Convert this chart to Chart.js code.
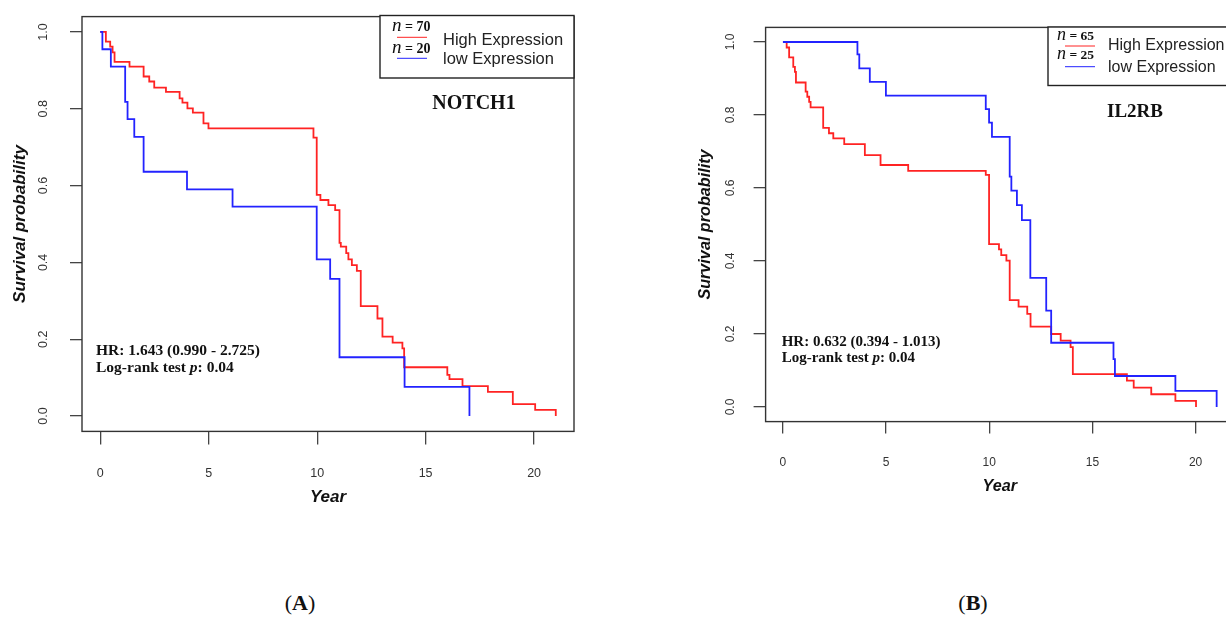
<!DOCTYPE html>
<html>
<head>
<meta charset="utf-8">
<script src="https://cdn.jsdelivr.net/npm/chart.js@4.4.1/dist/chart.umd.min.js"></script>
<style>
html, body { margin: 0; padding: 0; width: 1226px; height: 619px; overflow: hidden; background: #fff; }
canvas { position: absolute; top: 0; }
#chartA { left: 0; }
#chartB { left: 680px; }
.tag { position: absolute; top: 591px; width: 100px; text-align: center; line-height: 24px;
       font-family: 'Liberation Serif', 'Times New Roman', serif; font-size: 22px; color: #111; }
</style>
</head>
<body>
<canvas id="chartA" width="613" height="530"></canvas>
<canvas id="chartB" width="580" height="530"></canvas>
<div class="tag" style="left:250px">(<b>A</b>)</div>
<div class="tag" style="left:923px">(<b>B</b>)</div>
<script>
// axis ticks shared by both panels
const yearTicks = [0, 5, 10, 15, 20];
const yearTickLabels = ["0", "5", "10", "15", "20"];
const survTicks = [0, 0.2, 0.4, 0.6, 0.8, 1.0];
const survTickLabels = ["0.0", "0.2", "0.4", "0.6", "0.8", "1.0"];

// (A) NOTCH1 - high expression, n = 70
const notchHighYears = [0, 0.26, 0.46, 0.57, 0.66, 1.35, 2.0, 2.26, 2.49, 3.03, 3.66, 3.79, 4.02, 4.27, 4.76, 4.99,
    9.83, 9.98, 10.15, 10.52, 10.83, 11.03, 11.09, 11.34, 11.44, 11.6, 11.83, 12.01, 12.78, 13.01, 13.48, 13.93,
    14.01, 16.0, 16.1, 16.7, 17.87, 19.02, 20.05, 21.0];
const notchHighSurv = [1.0, 0.975, 0.962, 0.947, 0.922, 0.91, 0.884, 0.871, 0.855, 0.844, 0.827, 0.816, 0.801, 0.79, 0.762, 0.749,
    0.725, 0.576, 0.5625, 0.549, 0.536, 0.451, 0.441, 0.424, 0.408, 0.393, 0.378, 0.286, 0.254, 0.207, 0.191, 0.176,
    0.127, 0.107, 0.096, 0.078, 0.063, 0.031, 0.016, 0.0];
// (A) NOTCH1 - low expression, n = 20
const notchLowYears = [0, 0.1, 0.49, 1.15, 1.26, 1.57, 2.0, 4.0, 6.1, 9.98, 10.6, 11.03, 14.03, 17.02];
const notchLowSurv = [1.0, 0.955, 0.91, 0.818, 0.773, 0.727, 0.636, 0.59, 0.545, 0.408, 0.357, 0.153, 0.076, 0.0];

// (B) IL2RB - high expression, n = 65
const il2rbHighYears = [0, 0.18, 0.3, 0.5, 0.58, 0.63, 1.1, 1.18, 1.27, 1.34, 1.95, 2.23, 2.44, 2.97, 3.97, 4.73,
    6.07, 9.83, 9.99, 10.47, 10.58, 10.83, 10.99, 11.42, 11.84, 12.0, 13.0, 13.46, 13.94, 14.05, 16.67, 17.0,
    17.85, 19.02, 20.02];
const il2rbHighSurv = [1.0, 0.985, 0.958, 0.932, 0.918, 0.889, 0.864, 0.85, 0.836, 0.821, 0.765, 0.75, 0.736, 0.72, 0.69, 0.663,
    0.647, 0.636, 0.446, 0.432, 0.416, 0.401, 0.293, 0.275, 0.255, 0.22, 0.2, 0.182, 0.164, 0.09, 0.072, 0.053,
    0.035, 0.017, 0.0];
// (B) IL2RB - low expression, n = 25
const il2rbLowYears = [0, 3.61, 3.7, 4.21, 4.99, 9.83, 9.99, 10.13, 10.99, 11.07, 11.34, 11.58, 11.99, 12.76, 13.0,
    16.02, 16.09, 19.02, 21.02];
const il2rbLowSurv = [1.0, 0.966, 0.928, 0.891, 0.853, 0.816, 0.779, 0.74, 0.631, 0.593, 0.553, 0.512, 0.354, 0.264, 0.176,
    0.131, 0.085, 0.044, 0.0];

const sans = "'Liberation Sans', Arial, sans-serif";
const serif = "'Liberation Serif', 'Times New Roman', serif";
const redLine = "rgb(255, 35, 35)";
const blueLine = "rgb(35, 35, 255)";

function toPoints(xs, ys) {
    return xs.map((x, i) => ({ x: x, y: ys[i] }));
}

// draw text pieces one after the other on the same baseline
function drawRuns(ctx, x, y, runs) {
    runs.forEach(run => {
        ctx.font = run.font;
        ctx.fillText(run.text, x, y);
        x += ctx.measureText(run.text).width;
    });
}

function makePanel(canvasId, p, L) {
    // R style axis range: data range stretched by 4% on each side
    const xSpan = Math.max(...p.highYears, ...p.lowYears);
    const xMin = -0.04 * xSpan, xMax = xSpan * 1.04;

    const panelDecor = {
        id: 'panelDecor',
        afterDraw(chart) {
            const ctx = chart.ctx;
            const a = chart.chartArea;
            ctx.save();
            // box round the plot region
            ctx.strokeStyle = '#333';
            ctx.lineWidth = 1.4;
            ctx.strokeRect(a.left, a.top, a.right - a.left, a.bottom - a.top);

            // gene name
            ctx.fillStyle = '#111';
            ctx.textAlign = 'center';
            ctx.textBaseline = 'middle';
            ctx.font = 'bold ' + L.geneFont + 'px ' + serif;
            ctx.fillText(p.gene, L.geneX, L.geneY);

            // hazard ratio and log-rank text
            ctx.textAlign = 'left';
            ctx.textBaseline = 'alphabetic';
            const hrFont = L.hrFont + 'px ' + serif;
            drawRuns(ctx, L.hrX, L.hrY1, [{ text: p.hr, font: 'bold ' + hrFont }]);
            drawRuns(ctx, L.hrX, L.hrY2, [
                { text: 'Log-rank test ', font: 'bold ' + hrFont },
                { text: 'p', font: 'italic bold ' + hrFont },
                { text: ': ' + p.pValue, font: 'bold ' + hrFont }
            ]);

            // legend
            const lg = L.legend;
            ctx.fillStyle = '#fff';
            ctx.fillRect(lg.x, lg.y, lg.w, lg.h);
            ctx.strokeStyle = '#222';
            ctx.lineWidth = 1.4;
            ctx.strokeRect(lg.x, lg.y, lg.w, lg.h);
            ctx.fillStyle = '#111';
            drawRuns(ctx, lg.nX, lg.n1Y, [
                { text: 'n', font: 'italic ' + lg.nFont + 'px ' + serif },
                { text: ' = ' + p.highN, font: 'bold ' + lg.numFont + 'px ' + serif }
            ]);
            drawRuns(ctx, lg.nX, lg.n2Y, [
                { text: 'n', font: 'italic ' + lg.nFont + 'px ' + serif },
                { text: ' = ' + p.lowN, font: 'bold ' + lg.numFont + 'px ' + serif }
            ]);
            ctx.lineWidth = 1;
            ctx.strokeStyle = redLine;
            ctx.beginPath();
            ctx.moveTo(lg.lineX1, lg.line1Y);
            ctx.lineTo(lg.lineX2, lg.line1Y);
            ctx.stroke();
            ctx.strokeStyle = blueLine;
            ctx.beginPath();
            ctx.moveTo(lg.lineX1, lg.line2Y);
            ctx.lineTo(lg.lineX2, lg.line2Y);
            ctx.stroke();
            ctx.fillStyle = '#222';
            ctx.font = lg.labelFont + 'px ' + sans;
            ctx.fillText('High Expression', lg.labelX, lg.label1Y);
            ctx.fillText('low Expression', lg.labelX, lg.label2Y);
            ctx.restore();
        }
    };

    const ctx = document.getElementById(canvasId).getContext('2d');
    return new Chart(ctx, {
        type: 'line',
        data: {
            datasets: [{
                label: 'low Expression',
                data: toPoints(p.lowYears, p.lowSurv),
                borderColor: blueLine,
                borderWidth: 1.8,
                stepped: true,
                pointRadius: 0,
                fill: false
            }, {
                label: 'High Expression',
                data: toPoints(p.highYears, p.highSurv),
                borderColor: redLine,
                borderWidth: 1.8,
                stepped: true,
                pointRadius: 0,
                fill: false
            }]
        },
        options: {
            responsive: false,
            animation: false,
            devicePixelRatio: 1,
            layout: { padding: { left: 0, top: L.padTop, right: L.padRight, bottom: 0 } },
            plugins: { legend: { display: false }, tooltip: { enabled: false } },
            scales: {
                x: {
                    type: 'linear',
                    min: xMin,
                    max: xMax,
                    border: { display: false },
                    grid: { drawOnChartArea: false, drawTicks: true, tickLength: L.xTickLen, color: '#444', lineWidth: 1.3 },
                    ticks: {
                        padding: L.xTickPad,
                        color: '#333',
                        font: { family: sans, size: L.tickFont },
                        maxRotation: 0,
                        callback: (value, index) => yearTickLabels[index]
                    },
                    afterBuildTicks: scale => { scale.ticks = yearTicks.map(v => ({ value: v })); },
                    afterFit: scale => {
                        scale.height = L.xAxisHeight;
                        scale.paddingLeft = 0;
                        scale.paddingRight = 0;
                    },
                    title: {
                        display: true,
                        text: 'Year',
                        color: '#111',
                        font: { family: sans, size: L.titleFont, style: 'italic', weight: 'bold' },
                        padding: { top: 0, bottom: L.xTitlePad }
                    }
                },
                y: {
                    type: 'linear',
                    min: -0.04,
                    max: 1.04,
                    border: { display: false },
                    grid: { drawOnChartArea: false, drawTicks: true, tickLength: L.yTickLen, color: '#444', lineWidth: 1.3 },
                    ticks: {
                        padding: L.yTickPad,
                        color: '#333',
                        crossAlign: 'center',
                        minRotation: 90,
                        maxRotation: 90,
                        font: { family: sans, size: L.tickFont },
                        callback: (value, index) => survTickLabels[index]
                    },
                    afterBuildTicks: scale => { scale.ticks = survTicks.map(v => ({ value: v })); },
                    afterFit: scale => {
                        scale.width = L.yAxisWidth;
                        scale.paddingTop = 0;
                        scale.paddingBottom = 0;
                    },
                    title: {
                        display: true,
                        text: 'Survival probability',
                        color: '#111',
                        font: { family: sans, size: L.titleFont, style: 'italic', weight: 'bold' },
                        padding: { top: L.yTitlePad, bottom: 0 }
                    }
                }
            }
        },
        plugins: [panelDecor]
    });
}

makePanel('chartA', {
    gene: 'NOTCH1', hr: 'HR: 1.643 (0.990 - 2.725)', pValue: '0.04', highN: 70, lowN: 20,
    highYears: notchHighYears, highSurv: notchHighSurv, lowYears: notchLowYears, lowSurv: notchLowSurv
}, {
    padTop: 16.6, padRight: 39, yAxisWidth: 82, xAxisHeight: 98.6,
    xTickLen: 13, yTickLen: 12, xTickPad: 22, yTickPad: 18, tickFont: 12.5,
    titleFont: 17, xTitlePad: 22.8, yTitlePad: 9.8,
    geneX: 474, geneY: 103.5, geneFont: 20,
    hrX: 96, hrY1: 355, hrY2: 371.7, hrFont: 15.5,
    legend: {
        x: 380, y: 15.5, w: 194, h: 62.5,
        nX: 392, n1Y: 30.5, n2Y: 52.5, nFont: 19, numFont: 14,
        lineX1: 397, lineX2: 427, line1Y: 37.3, line2Y: 58.3,
        labelX: 443, label1Y: 45, label2Y: 64, labelFont: 16.5
    }
});

makePanel('chartB', {
    gene: 'IL2RB', hr: 'HR: 0.632 (0.394 - 1.013)', pValue: '0.04', highN: 65, lowN: 25,
    highYears: il2rbHighYears, highSurv: il2rbHighSurv, lowYears: il2rbLowYears, lowSurv: il2rbLowSurv
}, {
    padTop: 27.4, padRight: 26, yAxisWidth: 85.6, xAxisHeight: 108.4,
    xTickLen: 12, yTickLen: 12, xTickPad: 22, yTickPad: 14.4, tickFont: 12,
    titleFont: 16.2, xTitlePad: 33.6, yTitlePad: 16.3,
    geneX: 455, geneY: 112, geneFont: 19,
    hrX: 101.7, hrY1: 346, hrY2: 361.7, hrFont: 15,
    legend: {
        x: 368, y: 27, w: 186, h: 58.5,
        nX: 377, n1Y: 39.5, n2Y: 58.5, nFont: 18, numFont: 13.5,
        lineX1: 385, lineX2: 415, line1Y: 46, line2Y: 66.7,
        labelX: 428, label1Y: 49.5, label2Y: 71.5, labelFont: 16
    }
});
</script>
</body>
</html>
